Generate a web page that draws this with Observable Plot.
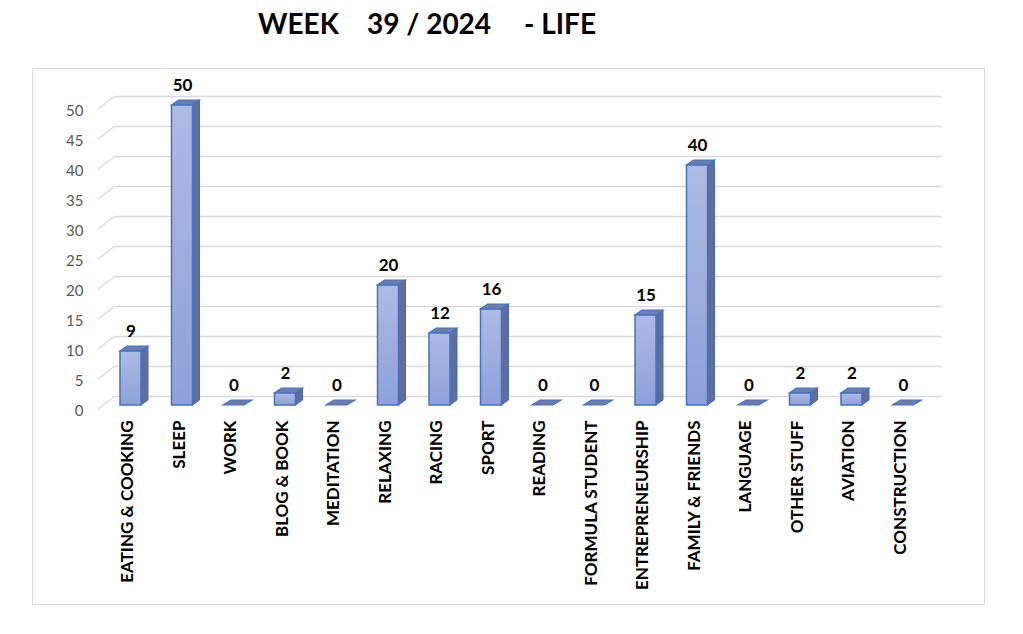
<!DOCTYPE html>
<html>
<head>
<meta charset="utf-8">
<script src="https://cdn.jsdelivr.net/npm/d3@7"></script>
<script src="https://cdn.jsdelivr.net/npm/@observablehq/plot@0.6"></script>
<style>
  html, body { margin: 0; padding: 0; background: #fff; }
  body { width: 1023px; height: 634px; position: relative; overflow: hidden; font-family: Lato, "Open Sans", sans-serif; }
  #title { position: absolute; left: 0; top: 9px; width: 1023px; height: 30px; font-size: 28px; line-height: 28px; font-weight: 700; white-space: pre; color: #000; margin: 0; }
  #title span { position: absolute; top: 0; }
  #box { position: absolute; left: 32px; top: 68px; width: 951px; height: 535px; border: 1px solid #d9d9d9; }
  #box svg { display: block; }
</style>
</head>
<body>
<h1 id="title"><span style="left:258px">WEEK</span><span style="left:367px">39 / 2024</span><span style="left:524px">- LIFE</span></h1>
<div id="box"></div>
<script>
const categories = ["EATING & COOKING","SLEEP","WORK","BLOG & BOOK","MEDITATION","RELAXING","RACING","SPORT","READING","FORMULA STUDENT","ENTREPRENEURSHIP","FAMILY & FRIENDS","LANGUAGE","OTHER STUFF","AVIATION","CONSTRUCTION"];
const hours = [9,50,0,2,0,20,12,16,0,0,15,40,0,2,2,0];
const yTicks = [0,5,10,15,20,25,30,35,40,45,50];

const data = categories.map((c, i) => ({category: c, value: hours[i]}));

const DX = 7, DY = 5;       // bar depth offset
const FX = 17;              // floor depth (diagonal grid)

function bars3d(index, scales, values, dims) {
  const g = d3.create("svg:g");
  const defs = g.append("defs");
  const grad = defs.append("linearGradient").attr("id", "frontGrad").attr("x1", 0).attr("y1", 0).attr("x2", 0).attr("y2", 1);
  grad.append("stop").attr("offset", "0%").attr("stop-color", "#adbae3");
  grad.append("stop").attr("offset", "100%").attr("stop-color", "#8da1d9");
  const bw = scales.x.bandwidth ? scales.x.bandwidth() : 21;
  const y0 = scales.y(0);
  for (const i of index) {
    const d = data[i];
    const x0 = scales.x(d.category), x1 = x0 + bw;
    if (d.value === 0) {
      const yf = y0, dyp = 5;
      g.append("polygon")
        .attr("points", [[x0, yf],[x1, yf],[x1 + DX + 1, yf - dyp],[x0 + DX + 1, yf - dyp]].map(p => p.join(",")).join(" "))
        .attr("fill", "#6b7bab").attr("stroke", "#4472c4").attr("stroke-width", 1.2);
      continue;
    }
    const yt = scales.y(d.value);
    g.append("polygon")
      .attr("points", [[x1, yt],[x1 + DX, yt - DY],[x1 + DX, y0 - DY],[x1, y0]].map(p => p.join(",")).join(" "))
      .attr("fill", "#5f6d98").attr("stroke", "#4a6bb5").attr("stroke-width", 1);
    g.append("polygon")
      .attr("points", [[x0, yt],[x0 + DX, yt - DY],[x1 + DX, yt - DY],[x1, yt]].map(p => p.join(",")).join(" "))
      .attr("fill", "#6d7dad").attr("stroke", "#4472c4").attr("stroke-width", 1.2);
    g.append("rect")
      .attr("x", x0).attr("y", yt).attr("width", bw).attr("height", y0 - yt)
      .attr("fill", "url(#frontGrad)").attr("stroke", "#4472c4").attr("stroke-width", 1.5);
  }
  return g.node();
}

function floorDiagonals(index, scales, values, dims) {
  const g = d3.create("svg:g");
  const xl = dims.marginLeft;
  for (const i of index) {
    const yf = scales.y(yTicks[i]);
    g.append("line")
      .attr("x1", xl - FX).attr("y1", yf + 4)
      .attr("x2", xl).attr("y2", yf - 9)
      .attr("stroke", "#d9d9d9").attr("stroke-width", 1.3);
  }
  return g.node();
}

const chart = Plot.plot({
  width: 951,
  height: 535,
  marginTop: 36,
  marginBottom: 199,
  marginLeft: 82,
  marginRight: 43,
  style: {fontFamily: "Lato, 'Open Sans', sans-serif", background: "transparent", overflow: "visible"},
  x: {type: "band", domain: categories, range: [87, 880.5], paddingInner: 0.592, paddingOuter: 0, align: 0.5, round: false, label: null},
  y: {domain: [0, 50], label: null},
  marks: [
    Plot.ruleY(yTicks, {y: d => d, dy: -9, stroke: "#d9d9d9", strokeWidth: 1.5, strokeOpacity: 1}),
    Plot.ruleY(yTicks, {y: d => d, render: floorDiagonals}),
    Plot.axisY({ticks: yTicks, tickSize: 0, tickPadding: 32, dy: 6, fontSize: 15, fill: "#595959", label: null}),
    Plot.axisX({tickSize: 0, tickPadding: 15, tickRotate: -90, fontSize: 17, fontWeight: 700, fill: "#000", label: null, dx: -3}),
    Plot.barY(data, {x: "category", y: "value", render: bars3d}),
    Plot.text(data, {x: "category", y: "value", text: d => String(d.value), dy: -20, fontSize: 17, fontWeight: 700, fill: "#000"})
  ]
});
document.getElementById("box").appendChild(chart);
</script>
</body>
</html>
